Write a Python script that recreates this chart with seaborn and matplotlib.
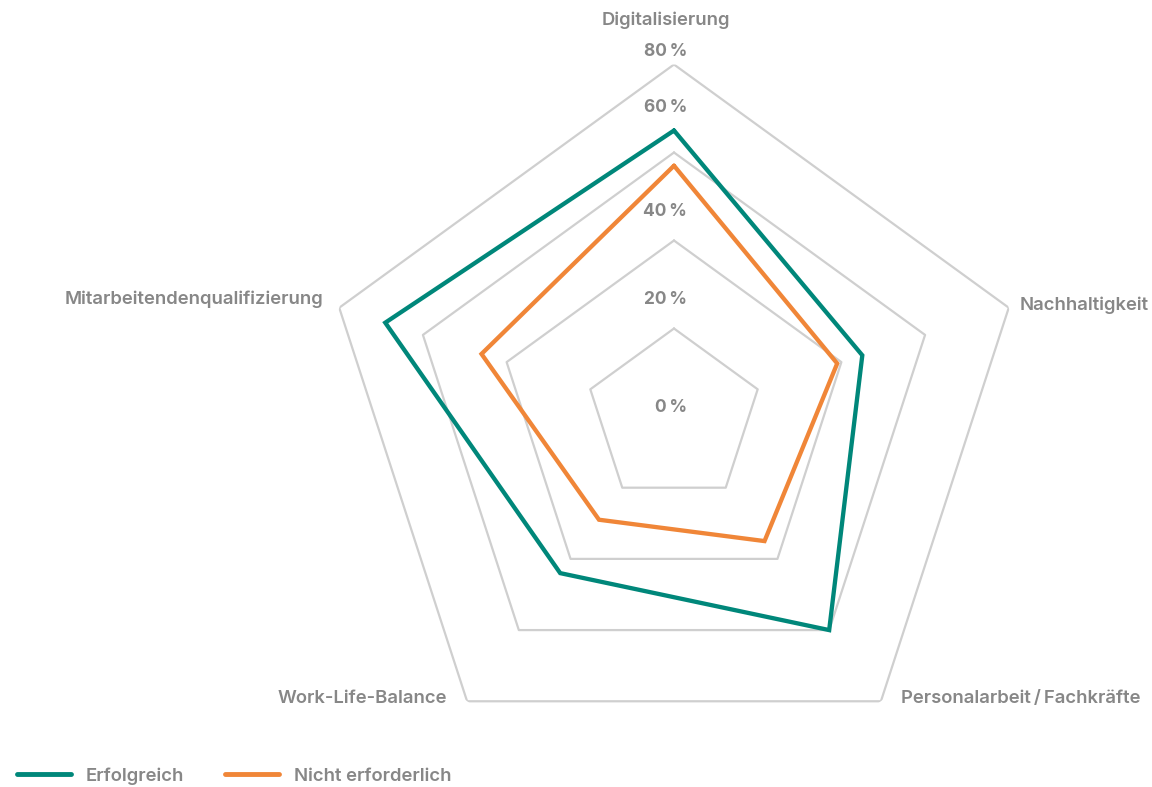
import numpy as np
import pandas as pd
import matplotlib
matplotlib.use("Agg")
import matplotlib.pyplot as plt
from matplotlib.lines import Line2D
import seaborn as sns

# Survey dimensions (clockwise from top) and the share per answer group, in percent
categories = [
    "Digitalisierung",
    "Nachhaltigkeit",
    "Personalarbeit\u2009/\u2009Fachkräfte",
    "Work-Life-Balance",
    "Mitarbeitendenqualifizierung",
]
erfolgreich = [65, 45, 60, 44, 69]
nicht_erforderlich = [57, 39, 35, 29, 46]
series_names = ["Erfolgreich", "Nicht erforderlich"]
ring_values = [20, 40, 60, 80]
tick_values = [0, 20, 40, 60, 80]
tick_labels = ["0\u2009%", "20\u2009%", "40\u2009%", "60\u2009%", "80\u2009%"]

TEAL = "#00877A"
ORANGE = "#F08638"
GRID = "#CFCFCF"
TEXT = "#878787"

sns.set_theme(style="white")
plt.rcParams["font.family"] = ["Inter", "DejaVu Sans"]

n = len(categories)
angles = np.linspace(0, 2 * np.pi, n, endpoint=False)
closed = np.append(angles, angles[0])

rows = []
for name, vals in zip(series_names, [erfolgreich, nicht_erforderlich]):
    for a, v in zip(closed, list(vals) + [vals[0]]):
        rows.append({"theta": a, "r": v, "series": name})
df = pd.DataFrame(rows)

W, H = 1152, 787
fig = plt.figure(figsize=(W / 100, H / 100), dpi=100)
cx, cy, R = 674, 416.5, 352
ax = fig.add_axes([(cx - R) / W, (H - cy - R) / H, 2 * R / W, 2 * R / H], projection="polar")
ax.set_theta_zero_location("N")
ax.set_theta_direction(-1)
ax.set_ylim(0, 80)
ax.grid(False)
ax.spines["polar"].set_visible(False)
ax.set_xticks([])
ax.set_yticks([])
ax.patch.set_alpha(0)

# pentagon gridlines
for rv in ring_values:
    ax.plot(closed, [rv] * len(closed), color=GRID, lw=1.6, zorder=1)

sns.lineplot(
    data=df, x="theta", y="r", hue="series", sort=False, estimator=None,
    palette=[TEAL, ORANGE], linewidth=3.1, legend=False, ax=ax, zorder=3,
)
for line in ax.lines[-2:]:
    line.set_solid_joinstyle("miter")
ax.set_xlabel("")
ax.set_ylabel("")
ax.set_ylim(0, 80)

# radial tick labels along the top axis
tick_offsets = [8.5, 29.5, 28.5, 45, 13]
for v, lab, off in zip(tick_values, tick_labels, tick_offsets):
    ax.annotate(lab, xy=(0, v), xytext=(13, off), textcoords="offset pixels",
                ha="right", va="center", fontsize=12.5, fontweight="bold", color=TEXT)

# category labels at the outer vertices
label_offsets = [(-8, 44), (11, 2), (20, 3), (-20, 3), (-16, 8)]
label_ha = ["center", "left", "left", "right", "right"]
for a, cat, off, ha in zip(angles, categories, label_offsets, label_ha):
    ax.annotate(cat, xy=(a, 80), xytext=off, textcoords="offset pixels",
                ha=ha, va="center", fontsize=13.3, fontweight="semibold", color=TEXT)

handles = [
    Line2D([], [], color=c, lw=3.5, solid_capstyle="round") for c in (TEAL, ORANGE)
]
leg = fig.legend(
    handles, series_names, loc="center left", bbox_to_anchor=(17 / W, 1 - 776 / H),
    ncol=2, frameon=False, fontsize=13.3, handlelength=2.9, handletextpad=0.8,
    columnspacing=2.25, borderpad=0, borderaxespad=0,
)
for t in leg.get_texts():
    t.set_color(TEXT)
    t.set_fontweight("semibold")

fig.savefig("out.png", dpi=100)
